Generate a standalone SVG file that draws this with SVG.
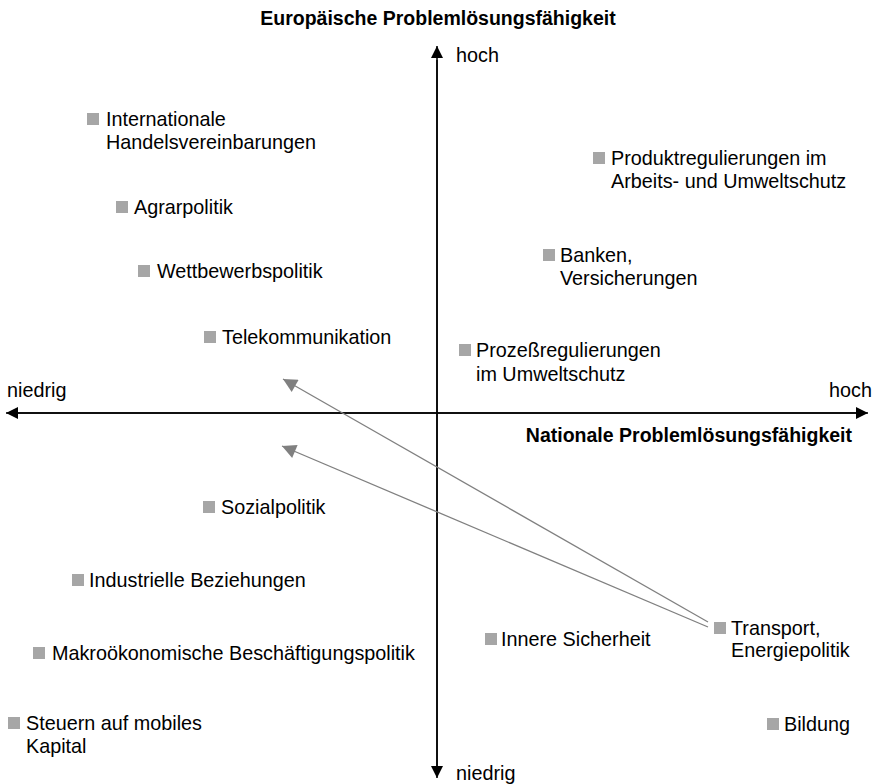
<svg xmlns="http://www.w3.org/2000/svg" width="875" height="784" viewBox="0 0 875 784">
<defs>
<style>
text{font-family:"Liberation Sans",Arial,sans-serif;font-size:19.8px;fill:#000}
.b{font-weight:bold;font-size:19.5px}
.sq{fill:#a6a6a6}
.ax{stroke:#000;stroke-width:1.5;fill:none}
.ar{stroke:#808080;stroke-width:1.3;fill:none}
</style>
<marker id="ah" viewBox="0 0 10 10" refX="10" refY="5" markerWidth="20" markerHeight="12" markerUnits="userSpaceOnUse" orient="auto"><path d="M0,0L10,5L0,10z" fill="#000"/></marker>
<marker id="ga" viewBox="0 0 10 10" refX="10" refY="5" markerWidth="18" markerHeight="14" markerUnits="userSpaceOnUse" orient="auto"><path d="M0,0L10,5L0,10z" fill="#808080"/></marker>
</defs>
<rect width="875" height="784" fill="#fff"/>
<g id="axes">
<line class="ax" x1="437" y1="770" x2="437" y2="46" marker-end="url(#ah)"/>
<line class="ax" x1="437" y1="60" x2="437" y2="778" marker-end="url(#ah)"/>
<line class="ax" x1="860" y1="413" x2="6" y2="413" marker-end="url(#ah)"/>
<line class="ax" x1="15" y1="413" x2="868" y2="413" marker-end="url(#ah)"/>
<text class="b" x="438" y="25" text-anchor="middle">Europäische Problemlösungsfähigkeit</text>
<text class="b" x="852" y="442" text-anchor="end">Nationale Problemlösungsfähigkeit</text>
<text x="456" y="62">hoch</text>
<text x="456" y="780">niedrig</text>
<text x="7" y="397">niedrig</text>
<text x="872" y="397" text-anchor="end">hoch</text>
</g>
<g id="connectors">
<line class="ar" x1="708" y1="622" x2="283" y2="379" marker-end="url(#ga)"/>
<line class="ar" x1="708" y1="627" x2="282" y2="446" marker-end="url(#ga)"/>
</g>
<g id="n1"><rect class="sq" x="87" y="113" width="12" height="12"/><text x="106" y="126">Internationale</text><text x="106" y="149">Handelsvereinbarungen</text></g>
<g id="n2"><rect class="sq" x="116" y="201" width="12" height="12"/><text x="134" y="214">Agrarpolitik</text></g>
<g id="n3"><rect class="sq" x="138" y="265" width="12" height="12"/><text x="157" y="278">Wettbewerbspolitik</text></g>
<g id="n4"><rect class="sq" x="204" y="331" width="12" height="12"/><text x="222" y="344">Telekommunikation</text></g>
<g id="n5"><rect class="sq" x="593" y="152" width="12" height="12"/><text x="611" y="165">Produktregulierungen im</text><text x="611" y="188">Arbeits- und Umweltschutz</text></g>
<g id="n6"><rect class="sq" x="543" y="249" width="12" height="12"/><text x="560" y="262">Banken,</text><text x="560" y="285">Versicherungen</text></g>
<g id="n7"><rect class="sq" x="459" y="344" width="12" height="12"/><text x="476" y="357">Prozeßregulierungen</text><text x="476" y="381">im Umweltschutz</text></g>
<g id="n8"><rect class="sq" x="203" y="501" width="12" height="12"/><text x="221" y="514">Sozialpolitik</text></g>
<g id="n9"><rect class="sq" x="72" y="574" width="12" height="12"/><text x="89" y="587">Industrielle Beziehungen</text></g>
<g id="n10"><rect class="sq" x="33" y="647" width="12" height="12"/><text x="52" y="660">Makroökonomische Beschäftigungspolitik</text></g>
<g id="n11"><rect class="sq" x="8" y="717" width="12" height="12"/><text x="26" y="730">Steuern auf mobiles</text><text x="26" y="753">Kapital</text></g>
<g id="n12"><rect class="sq" x="485" y="633" width="12" height="12"/><text x="501" y="646">Innere Sicherheit</text></g>
<g id="n13"><rect class="sq" x="714" y="622" width="12" height="12"/><text x="731" y="635">Transport,</text><text x="731" y="657">Energiepolitik</text></g>
<g id="n14"><rect class="sq" x="767" y="718" width="12" height="12"/><text x="784" y="731">Bildung</text></g>
</svg>
